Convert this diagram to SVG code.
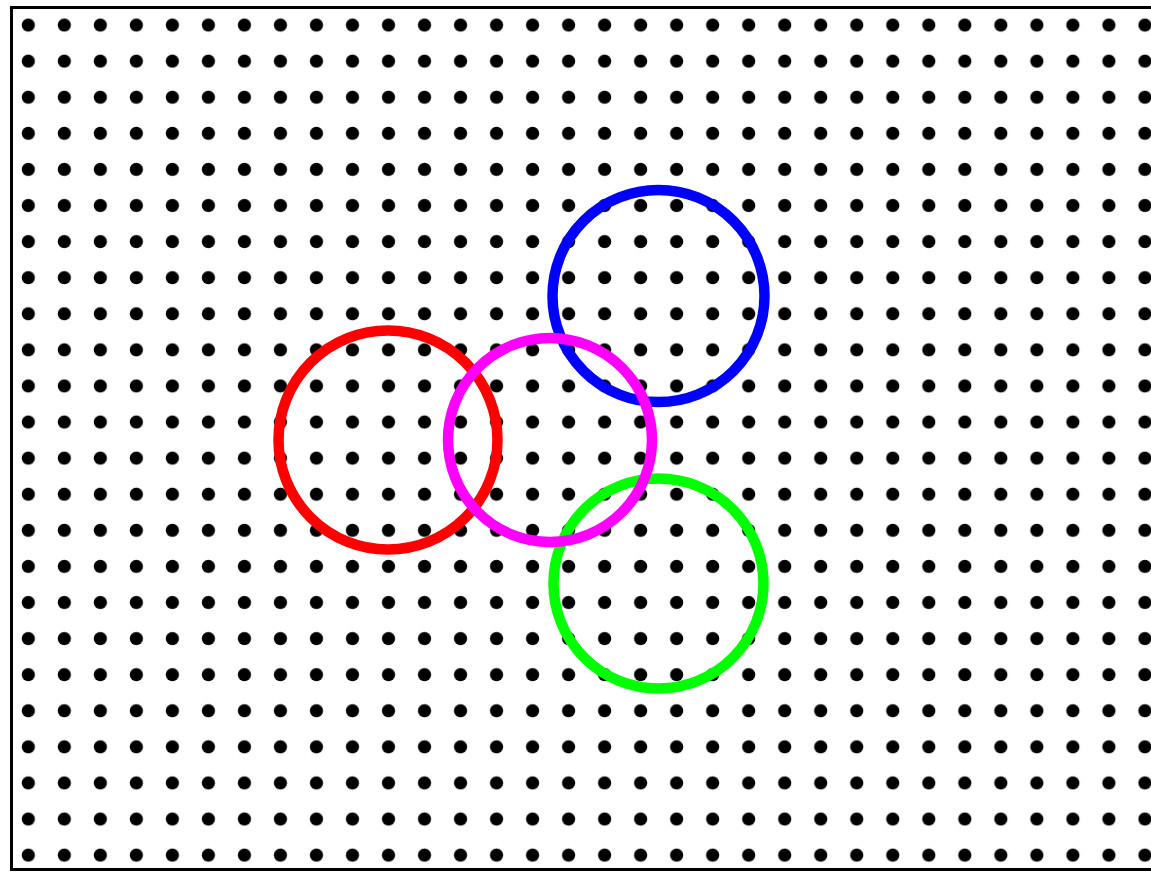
<svg xmlns="http://www.w3.org/2000/svg" width="1151" height="872" viewBox="0 0 1151 872">
<defs>
<pattern id="dots" x="10.3" y="7" width="36.02" height="36.09" patternUnits="userSpaceOnUse">
<circle cx="18" cy="18" r="6.6" fill="#000"/>
</pattern>
<style>
.ring{fill:none;stroke-width:10.5}
</style>
</defs>
<rect x="0" y="0" width="1151" height="872" fill="#fff"/>
<g id="grid">
<rect x="14" y="10" width="1137" height="860" fill="url(#dots)"/>
</g>
<rect x="11.5" y="7.5" width="1150" height="862" fill="none" stroke="#000" stroke-width="3"/>
<g id="red"><circle class="ring" cx="388" cy="440" r="109.5" stroke="#ff0000"/></g>
<g id="blue"><circle class="ring" cx="658.5" cy="296" r="106" stroke="#0000ff"/></g>
<g id="green"><circle class="ring" cx="658.5" cy="583.5" r="105" stroke="#00ff00"/></g>
<g id="magenta"><circle class="ring" cx="550" cy="440" r="102" stroke="#ff00ff"/></g>
</svg>
